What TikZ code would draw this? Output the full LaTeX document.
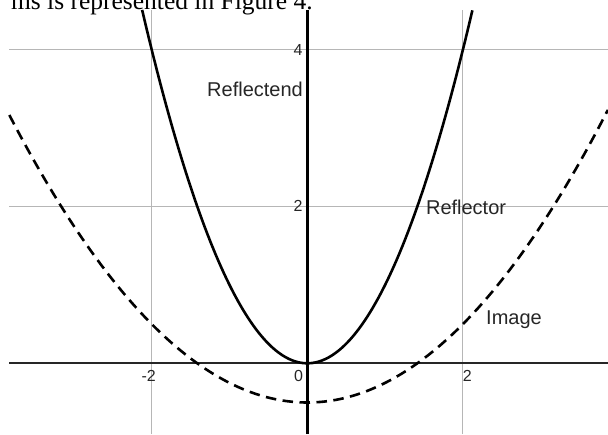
\documentclass[tikz,border=0pt]{standalone}
\usepackage{fontspec}
\setmainfont{Liberation Serif}
\newfontfamily\labelfont{Liberation Sans}
\usepackage{tikz}
\usetikzlibrary{calc}
\definecolor{gridgray}{RGB}{182,182,182}

\begin{document}
\begin{tikzpicture}[
    x=77.8pt, y=78.4pt,
    gridline/.style={draw=gridgray, line width=1pt},
    xaxis/.style={draw=black!85, line width=1.6pt},
    yaxis/.style={draw=black, line width=2.8pt},
    reflector/.style={draw=black, line width=2.6pt},
    image/.style={draw=black, line width=2.6pt, dash pattern=on 10.5pt off 6.5pt},
    curvelabel/.style={inner sep=0pt, font=\labelfont\fontsize{20}{24}\selectfont, text=black!85},
    ticklabel/.style={inner sep=0pt, font=\labelfont\fontsize{16}{19}\selectfont, text=black!85},
]
    % Frame
    \useasboundingbox (-3.950,-0.902) rectangle (3.865,4.634);

    % Grid
    \foreach \gx in {-2,2}
        \draw[gridline] (\gx,-0.902) -- (\gx,4.506);
    \foreach \gy in {2,4}
        \draw[gridline] (-3.830,\gy) -- (3.865,\gy);

    % Axes
    \draw[xaxis] (-3.830,0) -- (3.865,0);
    \draw[yaxis] (0,-0.902) -- (0,4.506);

    % Curves
    \draw[image] plot[domain=-3.830:3.865, samples=120, smooth] (\x,{\x*\x/4-0.5});
    \draw[reflector] plot[domain=-2.123:2.123, samples=100, smooth] (\x,{\x*\x});

    % Tick labels
    \node[ticklabel, anchor=base east] (ytickfour) at (-0.059,3.93) {4};
    \node[ticklabel, anchor=base east] (yticktwo) at (-0.059,1.93) {2};
    \node[ticklabel, anchor=base east] (origin) at (-0.051,-0.235) {0};
    \node[ticklabel, anchor=base east] (xtickmtwo) at (-1.945,-0.235) {-2};
    \node[ticklabel, anchor=base west] (xticktwo) at (1.997,-0.235) {2};

    % Curve labels
    \node[curvelabel, anchor=base east] (reflectend) at (-0.055,3.397) {Reflectend};
    \node[curvelabel, anchor=base west] (reflectorlabel) at (1.524,1.904) {Reflector};
    \node[curvelabel, anchor=base west] (imagelabel) at (2.297,0.497) {Image};

    % Cut-off caption line
    \node[inner sep=0pt, anchor=base east, font=\fontsize{25.5}{30}\selectfont] (caption) at (0.073,4.519) {ms is represented in Figure 4.};
\end{tikzpicture}
\end{document}
